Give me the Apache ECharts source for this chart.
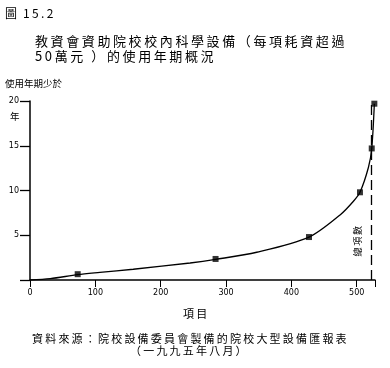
<!DOCTYPE html>
<html><head><meta charset="utf-8">
<script src="https://cdn.jsdelivr.net/npm/echarts@6/dist/echarts.min.js"></script>
<style>html,body{margin:0;padding:0;background:#fff}#c{width:390px;height:368px}</style>
</head><body><div id="c"></div>
<script>
// Data
const markerItems = [73, 284, 427, 505, 523, 527];
const markerYears = [0.65, 2.35, 4.8, 9.8, 14.7, 19.7];
const curveItems = [0, 31, 73, 107, 158, 245, 284, 347, 427, 475, 495, 505, 518, 523, 527];
const curveYears = [0, 0.15, 0.6, 0.85, 1.2, 1.9, 2.3, 3.1, 4.8, 7.3, 8.8, 9.8, 12.6, 14.7, 19.7];
const totalItems = 523;
const xTicks = [0, 100, 200, 300, 400, 500];
const yTicks = [5, 10, 15, 20];

const F = '"Noto Sans CJK TC", "Noto Sans", sans-serif';
const sp = (s, ch) => s.split('').join(ch || '\u2009');

const chart = echarts.init(document.getElementById('c'), null, {renderer: 'canvas'});
chart.setOption({
  animation: false,
  backgroundColor: '#fff',
  grid: {left: 30, right: 15, top: 101, bottom: 88},
  xAxis: {
    type: 'value', min: 0, max: 528, interval: 100,
    axisLine: {lineStyle: {color: '#000', width: 1.5}},
    axisTick: {show: true, length: 7, inside: false, lineStyle: {color: '#000', width: 1}},
    axisLabel: {color: '#000', fontSize: 8, margin: 9, fontFamily: 'DejaVu Sans',
      formatter: v => xTicks.indexOf(v) >= 0 ? String(v) : ''},
    splitLine: {show: false}
  },
  yAxis: {
    type: 'value', min: 0, max: 20, interval: 5,
    axisLine: {show: true, lineStyle: {color: '#000', width: 1.5}},
    axisTick: {show: true, length: 10, lineStyle: {color: '#000', width: 1.3}},
    axisLabel: {color: '#000', fontSize: 8, margin: 11, fontFamily: 'DejaVu Sans',
      formatter: v => yTicks.indexOf(v) >= 0 ? String(v) : ''},
    splitLine: {show: false}
  },
  series: [
    {
      type: 'line', smooth: 0.3, symbol: 'none',
      data: curveItems.map((x, i) => [x, curveYears[i]]),
      lineStyle: {color: '#000', width: 1.3},
      markLine: {
        silent: true, symbol: 'none', label: {show: false},
        lineStyle: {color: '#000', type: [10, 5], width: 1.3},
        data: [{xAxis: totalItems}]
      },
      z: 2
    },
    {
      type: 'scatter', symbol: 'rect', symbolSize: 6,
      data: markerItems.map((x, i) => [x, markerYears[i]]),
      itemStyle: {color: '#000'}, z: 3
    }
  ],
  graphic: [
    {type: 'text', left: 5, top: 7, style: {text: '圖\u2002' + sp('15.2'), fontSize: 12, fontFamily: F, fill: '#000'}},
    {type: 'text', left: 35, top: 35, style: {text: sp('教資會資助院校校內科學設備（每項耗資超過'), fontSize: 13, fontFamily: F, fill: '#000'}},
    {type: 'text', left: 35, top: 50, style: {text: sp('50萬元 ）的使用年期概況'), fontSize: 13, fontFamily: F, fill: '#000'}},
    {type: 'text', left: 5, top: 79, style: {text: '使用年期少於', fontSize: 9.5, fontFamily: F, fill: '#000'}},
    {type: 'text', left: 10, top: 112, style: {text: '年', fontSize: 9.5, fontFamily: F, fill: '#000'}},
    {type: 'text', left: 353, top: 226, rotation: Math.PI / 2, style: {text: sp('總項數'), fontSize: 9, fontFamily: F, fill: '#000'}},
    {type: 'text', left: 183, top: 308, style: {text: sp('項目'), fontSize: 11, fontFamily: F, fill: '#000'}},
    {type: 'text', left: 32, top: 333, style: {text: sp('資料來源：院校設備委員會製備的院校大型設備匯報表'), fontSize: 11, fontFamily: F, fill: '#000'}},
    {type: 'text', left: 130, top: 345, style: {text: sp('（一九九五年八月）'), fontSize: 11, fontFamily: F, fill: '#000'}}
  ]
});
</script></body></html>
